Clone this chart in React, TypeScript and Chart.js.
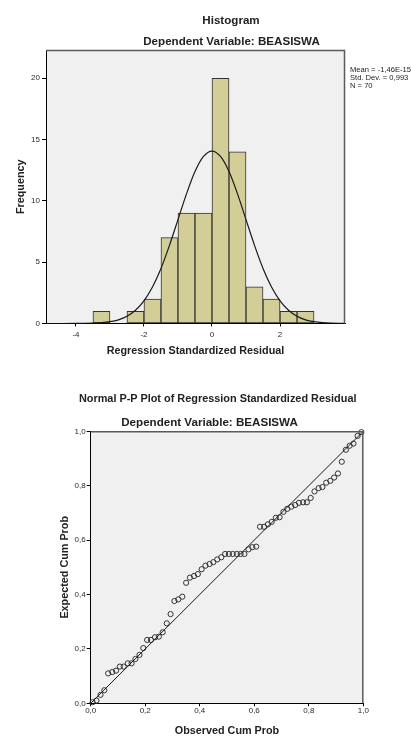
import React, { useEffect, useRef } from 'react';
import { Chart, registerables } from 'chart.js';

Chart.register(...registerables);
Chart.defaults.font.family = "'Liberation Sans', Arial, sans-serif";

// ---------- Histogram data ----------
const histBinCenters = [-3.25, -2.75, -2.25, -1.75, -1.25, -0.75, -0.25, 0.25, 0.75, 1.25, 1.75, 2.25, 2.75];
const histCounts = [1, 0, 1, 2, 7, 9, 9, 20, 14, 3, 2, 1, 1];
const curveX = [-4.88, -4.5, -4, -3.75, -3.5, -3.25, -3, -2.75, -2.5, -2.25, -2, -1.75, -1.5, -1.25, -1, -0.75, -0.5, -0.25, 0, 0.25, 0.5, 0.75, 1, 1.25, 1.5, 1.75, 2, 2.25, 2.5, 2.75, 3, 3.25, 3.5, 3.75, 3.91];
const curveY = [0.0001, 0.0005, 0.004, 0.011, 0.028, 0.066, 0.146, 0.3, 0.59, 1.08, 1.85, 2.97, 4.49, 6.37, 8.47, 10.57, 12.39, 13.62, 14.06, 13.62, 12.39, 10.57, 8.47, 6.37, 4.49, 2.97, 1.85, 1.08, 0.59, 0.3, 0.146, 0.066, 0.028, 0.011, 0.006];
const histXTicks = [-4, -2, 0, 2];
const histYTicks = [0, 5, 10, 15, 20];
const histXRange = [-4.88, 3.91];
const histYRange = [0, 22.3];
const statsLines = ['Mean = -1,46E-15', 'Std. Dev. = 0,993', 'N = 70'];

// ---------- P-P plot data ----------
const ppObserved = [
  0.007, 0.021, 0.036, 0.05, 0.064, 0.079, 0.093, 0.107, 0.121, 0.136,
  0.15, 0.164, 0.179, 0.193, 0.207, 0.221, 0.236, 0.25, 0.264, 0.279,
  0.293, 0.307, 0.321, 0.336, 0.35, 0.364, 0.379, 0.393, 0.407, 0.421,
  0.436, 0.45, 0.464, 0.479, 0.493, 0.507, 0.521, 0.536, 0.55, 0.564,
  0.579, 0.593, 0.607, 0.621, 0.636, 0.65, 0.664, 0.679, 0.693, 0.707,
  0.721, 0.736, 0.75, 0.764, 0.779, 0.793, 0.807, 0.821, 0.836, 0.85,
  0.864, 0.879, 0.893, 0.907, 0.921, 0.936, 0.95, 0.964, 0.979, 0.993,
];
const ppExpected = [
  0.004, 0.01, 0.031, 0.048, 0.11, 0.115, 0.12, 0.135, 0.135, 0.147,
  0.147, 0.163, 0.178, 0.203, 0.233, 0.233, 0.243, 0.245, 0.261, 0.294,
  0.328, 0.376, 0.382, 0.392, 0.443, 0.462, 0.468, 0.475, 0.493, 0.506,
  0.512, 0.519, 0.529, 0.537, 0.549, 0.549, 0.549, 0.549, 0.549, 0.549,
  0.566, 0.574, 0.576, 0.649, 0.649, 0.658, 0.667, 0.682, 0.684, 0.704,
  0.715, 0.723, 0.729, 0.737, 0.739, 0.739, 0.755, 0.779, 0.791, 0.795,
  0.811, 0.818, 0.83, 0.845, 0.888, 0.932, 0.947, 0.955, 0.983, 0.997,
];
const refLineX = [0, 1];
const refLineY = [0, 1];
const ppTickValues = [0, 0.2, 0.4, 0.6, 0.8, 1.0];
const ppTickLabels = ['0,0', '0,2', '0,4', '0,6', '0,8', '1,0'];

const BAR_FILL = '#D3CE97';
const PLOT_BG = '#F0F0F0';
const TEXT = '#222';

const framePlugin = {
  id: 'spssFrame',
  beforeDraw(chart: any) {
    const { ctx, chartArea } = chart;
    ctx.save();
    ctx.fillStyle = PLOT_BG;
    ctx.fillRect(chartArea.left, chartArea.top, chartArea.right - chartArea.left, chartArea.bottom - chartArea.top);
    ctx.restore();
  },
  afterDraw(chart: any) {
    const { ctx, chartArea } = chart;
    ctx.save();
    ctx.strokeStyle = '#5a5a5a';
    ctx.lineWidth = 1.5;
    ctx.beginPath();
    ctx.moveTo(chartArea.left, chartArea.top + 0.5);
    ctx.lineTo(chartArea.right - 0.5, chartArea.top + 0.5);
    ctx.lineTo(chartArea.right - 0.5, chartArea.bottom);
    ctx.stroke();
    ctx.restore();
  },
};

const tickFont = { size: 8 };
const titleFont = { size: 10.8, weight: 'bold' as const };

function axisCommon(tickLength: number, pad: number) {
  return {
    grid: { display: true, drawOnChartArea: false, drawTicks: true, tickLength, color: '#000', lineWidth: 1 },
    border: { display: true, color: '#000', width: 1 },
    ticks: { color: '#2a2a2a', font: tickFont, padding: pad, autoSkip: false, maxRotation: 0 },
  };
}

function Histogram() {
  const ref = useRef<HTMLCanvasElement>(null);
  useEffect(() => {
    const barData = histBinCenters.map((x, i) => ({ x, y: histCounts[i] }));
    const lineData = curveX.map((x, i) => ({ x, y: curveY[i] }));
    const xc = axisCommon(3, 3);
    const yc = axisCommon(4, 2);
    const chart = new Chart(ref.current!, {
      type: 'bar',
      data: {
        datasets: [
          {
            type: 'line',
            data: lineData,
            borderColor: '#1a1a1a',
            borderWidth: 1.2,
            pointRadius: 0,
            cubicInterpolationMode: 'monotone',
            fill: false,
            order: 0,
          } as any,
          {
            type: 'bar',
            data: barData,
            backgroundColor: BAR_FILL,
            borderColor: '#333',
            borderWidth: 1,
            borderSkipped: false,
            barPercentage: 1,
            categoryPercentage: 1,
            order: 1,
          } as any,
        ],
      },
      options: {
        animation: false,
        responsive: false,
        events: [],
        layout: { padding: { left: 0, top: 50, right: 66, bottom: 6.5 } },
        plugins: { legend: { display: false }, tooltip: { enabled: false } },
        scales: {
          x: {
            type: 'linear',
            min: histXRange[0],
            max: histXRange[1],
            offset: false,
            ...xc,
            grid: { ...xc.grid, offset: false },
            afterBuildTicks: (s: any) => { s.ticks = histXTicks.map((v) => ({ value: v })); },
            afterFit: (s: any) => { s.height = 40; },
            title: { display: true, text: 'Regression Standardized Residual', color: TEXT, font: titleFont, padding: { top: 0, bottom: 6.3 } },
          },
          y: {
            type: 'linear',
            min: histYRange[0],
            max: histYRange[1],
            ...yc,
            afterBuildTicks: (s: any) => { s.ticks = histYTicks.map((v) => ({ value: v })); },
            afterFit: (s: any) => { s.width = 46; },
            title: { display: true, text: 'Frequency', color: TEXT, font: titleFont, padding: { top: 14.2, bottom: 0 } },
          },
        },
      } as any,
      plugins: [framePlugin],
    });
    return () => chart.destroy();
  }, []);
  return <canvas ref={ref} width={411} height={370} style={{ position: 'absolute', left: 0, top: 0, width: 411, height: 370 }} />;
}

function PPPlot() {
  const ref = useRef<HTMLCanvasElement>(null);
  useEffect(() => {
    const pts = ppObserved.map((x, i) => ({ x, y: ppExpected[i] }));
    const line = refLineX.map((x, i) => ({ x, y: refLineY[i] }));
    const xc = axisCommon(3, 0);
    const yc = axisCommon(4, 1);
    const chart = new Chart(ref.current!, {
      type: 'scatter',
      data: {
        datasets: [
          {
            type: 'line',
            data: line,
            borderColor: '#1a1a1a',
            borderWidth: 1,
            pointRadius: 0,
            fill: false,
          } as any,
          {
            type: 'scatter',
            data: pts,
            pointStyle: 'circle',
            pointRadius: 2.6,
            borderWidth: 1,
            borderColor: '#333',
            backgroundColor: 'rgba(0,0,0,0)',
            clip: false,
          } as any,
        ],
      },
      options: {
        animation: false,
        responsive: false,
        events: [],
        layout: { padding: { left: 0, top: 61.3, right: 47.7, bottom: 0.7 } },
        plugins: { legend: { display: false }, tooltip: { enabled: false } },
        scales: {
          x: {
            type: 'linear',
            min: 0,
            max: 1,
            ...xc,
            afterBuildTicks: (s: any) => { s.ticks = ppTickValues.map((v) => ({ value: v })); },
            ticks: { ...xc.ticks, callback: (_v: any, i: number) => ppTickLabels[i] },
            afterFit: (s: any) => { s.height = 34; },
            title: { display: true, text: 'Observed Cum Prob', color: TEXT, font: titleFont, padding: { top: 0, bottom: 0 } },
          },
          y: {
            type: 'linear',
            min: 0,
            max: 1,
            ...yc,
            afterBuildTicks: (s: any) => { s.ticks = ppTickValues.map((v) => ({ value: v })); },
            ticks: { ...yc.ticks, callback: (_v: any, i: number) => ppTickLabels[i] },
            afterFit: (s: any) => { s.width = 90.7; },
            title: { display: true, text: 'Expected Cum Prob', color: TEXT, font: titleFont, padding: { top: 58.4, bottom: 0 } },
          },
        },
      } as any,
      plugins: [framePlugin],
    });
    return () => chart.destroy();
  }, []);
  return <canvas ref={ref} width={411} height={368} style={{ position: 'absolute', left: 0, top: 370, width: 411, height: 368 }} />;
}

const titleStyle = (cx: number, cy: number, size = 11.6): React.CSSProperties => ({
  position: 'absolute',
  left: cx,
  top: cy,
  transform: 'translate(-50%, -50%)',
  whiteSpace: 'nowrap',
  fontFamily: "'Liberation Sans', Arial, sans-serif",
  fontWeight: 'bold',
  fontSize: size,
  lineHeight: '14px',
  color: TEXT,
});

export default function App() {
  return (
    <div style={{ position: 'absolute', left: 0, top: 0, width: 411, height: 738, background: '#fff', overflow: 'hidden' }}>
      <Histogram />
      <PPPlot />
      <div style={titleStyle(231, 19.5)}>Histogram</div>
      <div style={titleStyle(231.5, 41)}>Dependent Variable: BEASISWA</div>
      <div
        style={{
          position: 'absolute',
          left: 350,
          top: 66,
          fontFamily: "'Liberation Sans', Arial, sans-serif",
          fontSize: 7.6,
          lineHeight: '8px',
          color: TEXT,
          whiteSpace: 'nowrap',
        }}
      >
        {statsLines.map((s) => (
          <div key={s}>{s}</div>
        ))}
      </div>
      <div style={titleStyle(217.7, 398, 10.9)}>Normal P-P Plot of Regression Standardized Residual</div>
      <div style={titleStyle(209.5, 421.7)}>Dependent Variable: BEASISWA</div>
    </div>
  );
}
